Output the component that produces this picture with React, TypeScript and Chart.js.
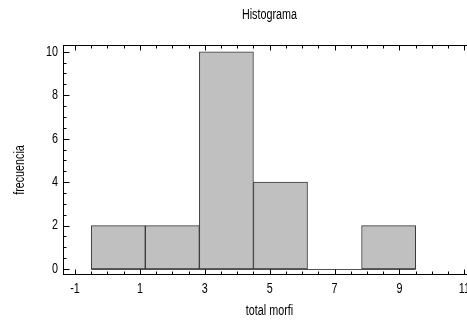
import { useEffect, useRef } from "react";
import { Chart, registerables } from "chart.js";

Chart.register(...registerables);

const binEdges = [-0.5, 1.167, 2.833, 4.5, 6.167, 7.833, 9.5];
const frequencies = [2, 2, 10, 4, 0, 2];
const xTickValues = [-1, 1, 3, 5, 7, 9, 11];
const yTickValues = [0, 2, 4, 6, 8, 10];
const titleText = "Histograma";
const xTitle = "total morfi";
const yTitle = "frecuencia";

const FONT = "'Liberation Sans Narrow', 'Liberation Sans', Arial, sans-serif";
const SQUEEZE = 0.77;

function drawText(ctx: CanvasRenderingContext2D, text: string, x: number, y: number, align: CanvasTextAlign, rotate = 0) {
  ctx.save();
  ctx.translate(x, y);
  if (rotate) ctx.rotate(rotate);
  ctx.scale(SQUEEZE, 1);
  ctx.textAlign = align;
  ctx.textBaseline = "middle";
  ctx.fillText(text, 0, 0);
  ctx.restore();
}

export default function App() {
  const ref = useRef<HTMLCanvasElement>(null);

  useEffect(() => {
    document.body.style.margin = "0";
    const canvas = ref.current;
    if (!canvas) return;

    const points = frequencies.map((f, i) => ({
      x: (binEdges[i] + binEdges[i + 1]) / 2,
      y: f,
    }));

    const framePlugin = {
      id: "frameTicks",
      afterDatasetsDraw(chart: any) {
        const { ctx, scales } = chart;
        const xs = scales.x;
        const ys = scales.y;
        ctx.save();
        ctx.strokeStyle = "#505050";
        ctx.lineWidth = 1;
        const y0 = Math.round(ys.getPixelForValue(0)) + 0.5;
        ctx.beginPath();
        ctx.moveTo(xs.getPixelForValue(binEdges[0]), y0);
        ctx.lineTo(xs.getPixelForValue(binEdges[binEdges.length - 1]), y0);
        ctx.stroke();
        ctx.restore();
      },
      afterDraw(chart: any) {
        const { ctx, chartArea: a, scales } = chart;
        const xs = scales.x;
        const ys = scales.y;
        ctx.save();
        ctx.strokeStyle = "#000";
        ctx.lineWidth = 1;
        const L = Math.round(a.left) + 0.5;
        const T = Math.round(a.top) + 0.5;
        const B = Math.round(a.bottom) - 0.5;
        const R = Math.round(a.right) - 0.5;
        ctx.strokeRect(L, T, R - L, B - T);
        ctx.beginPath();
        for (let v = Math.ceil(xs.min * 2) / 2; v <= xs.max; v += 0.5) {
          const major = xTickValues.some((t) => Math.abs(t - v) < 1e-6);
          const len = major ? 5 : 3;
          const px = Math.round(xs.getPixelForValue(v)) + 0.5;
          ctx.moveTo(px, B);
          ctx.lineTo(px, B - len);
          ctx.moveTo(px, T);
          ctx.lineTo(px, T + len);
        }
        for (let v = Math.ceil(ys.min * 2) / 2; v <= ys.max; v += 0.5) {
          const major = yTickValues.some((t) => Math.abs(t - v) < 1e-6);
          const len = major ? 6 : 3;
          const py = Math.round(ys.getPixelForValue(v)) + 0.5;
          ctx.moveTo(L, py);
          ctx.lineTo(L + len, py);
        }
        ctx.stroke();

        ctx.fillStyle = "#000";
        ctx.font = `14px ${FONT}`;
        // tick labels from the scales
        for (const v of xTickValues) {
          drawText(ctx, String(v), xs.getPixelForValue(v), a.bottom + 14, "center");
        }
        for (const v of yTickValues) {
          drawText(ctx, String(v), a.left - 5, ys.getPixelForValue(v), "right");
        }
        // titles
        drawText(ctx, titleText, (a.left + a.right) / 2, 15.5, "center");
        drawText(ctx, xTitle, (a.left + a.right) / 2, 311, "center");
        drawText(ctx, yTitle, 20, 170, "center", -Math.PI / 2);
        ctx.restore();
      },
    };

    const chart = new Chart(canvas, {
      type: "bar",
      data: {
        datasets: [
          {
            data: points as any,
            backgroundColor: "#c0c0c0",
            borderColor: "#383838",
            borderWidth: 1,
            borderSkipped: false,
            barPercentage: 1,
            categoryPercentage: 1,
            grouped: false,
          },
        ],
      },
      options: {
        responsive: false,
        animation: false,
        devicePixelRatio: 1,
        layout: { padding: { left: 0, right: 4, top: 45, bottom: 0 } },
        plugins: {
          legend: { display: false },
          tooltip: { enabled: false },
          title: { display: false },
        },
        scales: {
          x: {
            type: "linear",
            offset: false,
            min: -1.37,
            max: 11.36,
            grid: { display: false, drawTicks: false, offset: false },
            border: { display: false },
            afterBuildTicks: (s: any) => {
              s.ticks = xTickValues.map((v) => ({ value: v }));
            },
            afterFit: (s: any) => {
              s.height = 47;
            },
            ticks: { display: false },
          },
          y: {
            type: "linear",
            min: -0.276,
            max: 10.31,
            grid: { display: false, drawTicks: false },
            border: { display: false },
            afterBuildTicks: (s: any) => {
              s.ticks = yTickValues.map((v) => ({ value: v }));
            },
            afterFit: (s: any) => {
              s.width = 63;
            },
            ticks: { display: false },
          },
        },
      },
      plugins: [framePlugin],
    });

    return () => chart.destroy();
  }, []);

  return (
    <div
      style={{
        position: "absolute",
        left: 0,
        top: 0,
        width: 467,
        height: 322,
        overflow: "hidden",
        background: "#fff",
      }}
    >
      <canvas ref={ref} width={480} height={322} style={{ width: 480, height: 322, display: "block" }} />
    </div>
  );
}
